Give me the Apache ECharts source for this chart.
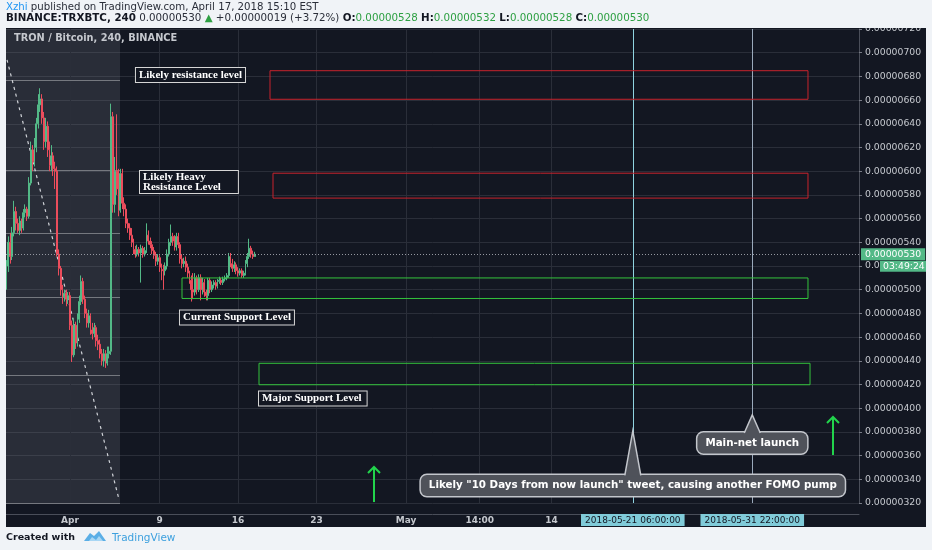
<!DOCTYPE html>
<html><head><meta charset="utf-8">
<script src="https://cdn.jsdelivr.net/npm/echarts@6/dist/echarts.min.js"></script>
<style>html,body{margin:0;padding:0;background:#f0f3f7;}#c{width:932px;height:550px;}</style>
</head><body><div id="c"></div><script>
// ---------- data (prices in satoshi, 1e-8 BTC) ----------
const START = '2018-03-26 08:00';           // first 4h candle
const STEP_H = 4;
const opens = [504,520,540,528,548,566,556,550,558,552, 565,568,562,590,618,608,620,640,656,661, 645,625,638,618,605,613,602,600,530,518, 500,494,497,492,495,470,445,470,455,475, 490,507,492,480,472,478,466,463,468,457, 454,446,440,446,438,446,448,646,572,600, 585,567,598,573,568,556,552,546,540,534, 530,534,531,535,530,533,546,541,538,533, 529,524,527,519,517,516,520,530,540,545, 541,536,545,538,526,522,524,519,514,508, 500,498,510,500,510,500,506,498,495,508, 500,504,506,503,507,508,506,509,510,512, 528,522,518,521,516,514,516,512,514,522, 528,535,530,528];
const closes = [520,540,528,548,566,556,550,558,552,565, 568,562,590,618,608,620,640,656,661,645, 625,638,618,605,613,602,600,530,518,500, 494,497,492,495,470,445,470,455,475,490, 507,492,480,472,478,466,463,468,457,454, 446,440,446,438,446,448,646,572,600,585, 567,598,573,568,556,552,546,540,534,530, 534,531,535,530,533,546,541,538,533,529, 524,527,519,517,516,520,530,540,545,541, 536,545,538,526,522,524,519,514,508,500, 498,510,500,510,500,506,498,495,508,500, 504,506,503,507,508,506,509,510,512,528, 522,518,521,516,514,516,512,514,522,528, 535,530,528,530];
const highs = [525,545,548,553,575,570,560,562,560,568, 572,570,595,625,622,628,645,665,670,665, 650,645,642,625,622,616,608,604,534,520, 504,500,500,498,498,474,476,473,480,495, 512,510,495,484,483,480,472,472,470,462, 458,450,450,449,452,452,657,650,612,648, 602,602,602,578,572,560,556,552,543,537, 538,536,538,537,536,556,550,544,541,536, 532,530,529,522,521,523,534,543,555,548, 546,548,548,540,530,527,528,522,516,512, 514,514,512,513,513,510,509,500,510,510, 507,508,508,509,511,510,511,512,514,531, 531,526,524,523,519,518,518,516,525,531, 543,537,533,532];
const lows = [500,515,522,525,545,550,548,546,548,550, 561,558,560,588,600,604,616,636,650,640, 618,620,612,600,600,596,585,528,512,495, 488,490,486,488,466,439,443,450,452,472, 487,488,476,468,468,462,458,460,452,449, 442,436,435,434,436,442,445,565,565,580, 562,565,568,562,552,548,542,536,530,527, 528,528,506,527,528,531,538,535,530,526, 520,521,515,508,500,512,517,528,537,537, 533,533,535,522,518,519,515,510,505,490, 492,495,496,498,491,496,494,491,491,497, 498,501,500,501,505,504,504,507,508,510, 519,515,515,513,511,512,510,510,512,519, 526,527,526,528];

// axis ranges and ticks
const X_MIN = '2018-03-26 06:51', X_MAX = '2018-06-10 10:43';
const Y_MIN = 320, Y_MAX = 720, Y_STEP = 20;
const xTickDates = ['2018-04-01 00:00','2018-04-09 00:00','2018-04-16 00:00','2018-04-23 00:00','2018-05-01 00:00','2018-05-07 14:00','2018-05-14 00:00'];
const xTickLabels = ['Apr','9','16','23','May','14:00','14'];
const markerDates = ['2018-05-21 06:00','2018-05-31 22:00'];
const markerLabels = ['2018-05-21 06:00:00','2018-05-31 22:00:00'];

// drawings
const shadeEnd = '2018-04-05 11:10';
const shadeLevels = [677, 600.5, 547.7, 494, 428, 320];
const trendFrom = ['2018-03-26 09:00', 694], trendTo = ['2018-04-05 09:40', 322];
const zoneStart = ['2018-04-18 20:35','2018-04-19 03:00','2018-04-11 00:00','2018-04-17 21:00'];
const zoneEnd = ['2018-06-05 21:25','2018-06-05 21:25','2018-06-05 21:25','2018-06-06 01:45'];
const zoneTop = [684.8, 598.3, 509.9, 437.9];
const zoneBottom = [660.7, 577.3, 492.6, 419.8];
const noteText = ['Likely resistance level','Likely Heavy\nResistance Level','Current Support Level','Major Support Level'];
const noteAt = ['2018-04-06 21:20','2018-04-07 06:00','2018-04-10 19:40','2018-04-17 21:00'];
const noteValue = [681.2, 590.9, 476.5, 408.2];
const callText = ['Likely "10 Days from now launch" tweet, causing another FOMO pump','Main-net launch'];
const callTipValue = [380.8, 394.3];
const callBoxValue = [334.8, 370.6];
const arrowAt = ['2018-04-28 03:25','2018-06-08 03:00'];
const arrowFrom = [320.8, 360.5];
const arrowTo = [350.4, 392.6];
const countdown = '03:49:24';

// ---------- styles ----------
const UP = '#53b987', DOWN = '#eb4d5c';
const zoneColor = ['#c8232c','#c8232c','#34c43c','#34c43c'];
const notePadding = [[1, 3], [1, 17, 1, 3], [1, 3], [1, 5, 1, 3]];
const GRIDC = '#2a2e39';
const AXF = 'DejaVu Sans';

const d = s => Date.parse(s.replace(' ', 'T') + ':00Z');
const fmt = v => (v / 1e8).toFixed(8);
const t0 = d(START);
const candleData = opens.map((o, i) => [t0 + i * STEP_H * 3600e3, o, closes[i], lows[i], highs[i]]);
const lastClose = closes[closes.length - 1];
const tickTimes = xTickDates.map(d), markTimes = markerDates.map(d);

const chart = echarts.init(document.getElementById('c'), null, {width: 932, height: 550});

const bgLines = [];
tickTimes.forEach(t => bgLines.push({xAxis: t, lineStyle: {color: GRIDC, width: 1, type: 'solid'}}));
shadeLevels.forEach(v => bgLines.push([{coord: [d(X_MIN), v], lineStyle: {color: '#75787f', width: 1, type: 'solid'}}, {coord: [d(shadeEnd), v]}]));
bgLines.push([{coord: [d(trendFrom[0]), trendFrom[1]], lineStyle: {color: '#d0d3d8', width: 1.2, type: [3, 4]}}, {coord: [d(trendTo[0]), trendTo[1]]}]);

const option = {
  animation: false,
  backgroundColor: '#131722',
  grid: {left: 6, right: 73, top: 29, bottom: 47},
  xAxis: {
    type: 'value', min: d(X_MIN), max: d(X_MAX), offset: 11, scale: true,
    axisLine: {show: true, lineStyle: {color: '#4a4e59'}},
    axisTick: {show: false}, splitLine: {show: false},
    axisLabel: {
      customValues: tickTimes.concat(markTimes), margin: 1, hideOverlap: false,
      formatter: v => {
        let k = tickTimes.indexOf(v);
        if (k >= 0) return '{n|' + xTickLabels[k] + '}';
        k = markTimes.indexOf(v);
        if (k >= 0) return '{h|' + markerLabels[k] + '}';
        return '';
      },
      rich: {
        n: {color: '#c5c8ce', fontFamily: AXF, fontWeight: 'bold', fontSize: 9, lineHeight: 10, padding: [2, 0, 1, 0]},
        h: {color: '#131722', fontFamily: AXF, fontSize: 9, lineHeight: 10, backgroundColor: '#80cbd9', padding: [2, 4, 1, 4]}
      }
    }
  },
  yAxis: {
    type: 'value', position: 'right', min: Y_MIN, max: Y_MAX, interval: Y_STEP,
    axisLine: {show: true, lineStyle: {color: '#4a4e59'}},
    axisTick: {show: true, length: 3, lineStyle: {color: '#787b86'}},
    axisLabel: {margin: 6, color: '#c5c8ce', fontFamily: AXF, fontSize: 9.3, formatter: fmt},
    splitLine: {show: true, lineStyle: {color: GRIDC}}
  },
  series: [
    {
      name: 'bg', type: 'line', data: [], z: 1, silent: true,
      markArea: {z: 1, silent: true, label: {show: false},
        data: [[{xAxis: d(X_MIN), yAxis: Y_MAX, itemStyle: {color: 'rgba(125,128,138,0.22)'}}, {xAxis: d(shadeEnd), yAxis: Y_MIN}]]},
      markLine: {z: 1, silent: true, symbol: ['none', 'none'], label: {show: false}, data: bgLines}
    },
    {
      name: 'TRXBTC', type: 'candlestick', z: 3, barWidth: 1.4, data: candleData,
      itemStyle: {color: UP, color0: DOWN, borderColor: UP, borderColor0: DOWN, borderWidth: 1},
      markLine: {z: 5, silent: true, symbol: ['none', 'none'], label: {show: false},
        data: [{yAxis: lastClose, lineStyle: {type: [1, 2], color: '#9598a1', width: 1}}]
          .concat(markTimes.map((t, i) => ({xAxis: t, lineStyle: {type: 'solid', width: 1, color: i === 0 ? '#8fd3e0' : '#9aa9bb'}})))}
    },
    {
      name: 'zones', type: 'line', data: [], z: 6, silent: true,
      markArea: {z: 6, silent: true, label: {show: false},
        data: zoneStart.map((s, i) => [
          {xAxis: d(s), yAxis: zoneTop[i], itemStyle: {color: 'rgba(0,0,0,0)', borderColor: zoneColor[i], borderWidth: 1}},
          {xAxis: d(zoneEnd[i]), yAxis: zoneBottom[i]}])}
    }
  ]
};
chart.setOption(option);

const px = (t, v) => chart.convertToPixel({xAxisIndex: 0, yAxisIndex: 0}, [t, v]);
const g = [];
// light page margins around the dark panel
const LIGHT = '#f0f3f7';
g.push({type: 'rect', z: 100, shape: {x: 0, y: 0, width: 932, height: 28}, style: {fill: LIGHT}});
g.push({type: 'rect', z: 100, shape: {x: 0, y: 527, width: 932, height: 23}, style: {fill: LIGHT}});
g.push({type: 'rect', z: 100, shape: {x: 0, y: 0, width: 6, height: 550}, style: {fill: LIGHT}});
g.push({type: 'rect', z: 100, shape: {x: 926, y: 0, width: 6, height: 550}, style: {fill: LIGHT}});
// header
g.push({type: 'text', z: 101, x: 6, y: 7, style: {
  text: '{b|Xzhi} published on TradingView.com, April 17, 2018 15:10 EST',
  fill: '#2a2e39', fontFamily: AXF, fontSize: 10.2, verticalAlign: 'middle',
  rich: {b: {fill: '#2196f3', fontFamily: AXF, fontSize: 10.2}}}});
g.push({type: 'text', z: 101, x: 6, y: 18, style: {
  text: '{k|BINANCE:TRXBTC, 240} 0.00000530 {g|▲} +0.00000019 (+3.72%) {k|O:}{v|0.00000528} {k|H:}{v|0.00000532} {k|L:}{v|0.00000528} {k|C:}{v|0.00000530}',
  fill: '#2a2e39', fontFamily: AXF, fontSize: 10.3, verticalAlign: 'middle',
  rich: {k: {fill: '#131722', fontWeight: 'bold', fontFamily: AXF, fontSize: 10.3},
         v: {fill: '#2ea043', fontFamily: AXF, fontSize: 10.3},
         g: {fill: '#2ea043', fontFamily: AXF, fontSize: 10.3}}}});
// panel title
g.push({type: 'text', z: 50, x: 14, y: 38, style: {text: 'TRON / Bitcoin, 240, BINANCE', fill: '#c5c8ce', fontFamily: AXF, fontWeight: 'bold', fontSize: 9.8, verticalAlign: 'middle'}});
// footer
g.push({type: 'text', z: 101, x: 6, y: 538, style: {text: 'Created with', fill: '#131722', fontFamily: AXF, fontWeight: 'bold', fontSize: 9.5, verticalAlign: 'middle'}});
g.push({type: 'polygon', z: 101, shape: {points: [[84, 541], [90, 533], [94, 536], [99, 531], [106, 541]]}, style: {fill: '#5aaee6'}});
g.push({type: 'polygon', z: 102, shape: {points: [[89, 541], [92, 537], [96, 540], [99, 536], [103, 541]]}, style: {fill: '#a8d6f4'}});
g.push({type: 'text', z: 101, x: 112, y: 538, style: {text: 'TradingView', fill: '#3da0de', fontFamily: AXF, fontSize: 10.5, verticalAlign: 'middle'}});
// text notes
noteText.forEach((txt, i) => {
  const [x, y] = px(d(noteAt[i]), noteValue[i]);
  g.push({type: 'text', z: 40, x, y, style: {text: txt, fill: '#ffffff', fontFamily: 'Liberation Serif', fontWeight: 'bold', fontSize: 11,
    lineHeight: txt.indexOf('\n') >= 0 ? 10 : 12, align: 'left', verticalAlign: 'middle',
    backgroundColor: '#131722', borderColor: '#d6d6d6', borderWidth: 1, padding: notePadding[i]}});
});
// callouts
callText.forEach((txt, i) => {
  const [tx, ty] = px(markTimes[i], callTipValue[i]);
  const by = px(markTimes[i], callBoxValue[i])[1];
  const top = by - 10.5;
  g.push({type: 'text', z: 40, x: tx, y: by, style: {text: txt, fill: '#ffffff', fontFamily: AXF, fontWeight: 'bold', fontSize: 10.3,
    lineHeight: 15, align: 'center', verticalAlign: 'middle', backgroundColor: '#4f525a', borderColor: '#c3c6cc', borderWidth: 1.5, borderRadius: 6, padding: [3, 8]}});
  g.push({type: 'polygon', z: 41, shape: {points: [[tx - 8, top + 1.5], [tx, ty], [tx + 8, top + 1.5]]}, style: {fill: '#4f525a'}});
  g.push({type: 'polyline', z: 42, shape: {points: [[tx - 8, top + 0.5], [tx, ty], [tx + 8, top + 0.5]]}, style: {stroke: '#c3c6cc', lineWidth: 1.5, fill: null}});
});
// arrows
arrowAt.forEach((s, i) => {
  const [x0, y0] = px(d(s), arrowFrom[i]);
  const [x1, y1] = px(d(s), arrowTo[i]);
  g.push({type: 'polyline', z: 40, shape: {points: [[x0, y0], [x1, y1]]}, style: {stroke: '#22d44c', lineWidth: 2, fill: null}});
  g.push({type: 'polyline', z: 40, shape: {points: [[x1 - 6, y1 + 6], [x1, y1], [x1 + 6, y1 + 6]]}, style: {stroke: '#22d44c', lineWidth: 2, fill: null}});
});
// last price + countdown on the price scale
const [ax, ay] = px(d(X_MAX), lastClose);
g.push({type: 'text', z: 45, x: ax + 2, y: ay, style: {text: fmt(lastClose), fill: '#ffffff', fontFamily: AXF, fontSize: 9.3, verticalAlign: 'middle', backgroundColor: UP, padding: [2, 4, 1, 4]}});
g.push({type: 'text', z: 45, x: ax + 21, y: ay + 12, style: {text: countdown, fill: '#ffffff', fontFamily: AXF, fontSize: 9.3, verticalAlign: 'middle', backgroundColor: UP, padding: [1, 3, 1, 3]}});

chart.setOption({graphic: g});
</script></body></html>
